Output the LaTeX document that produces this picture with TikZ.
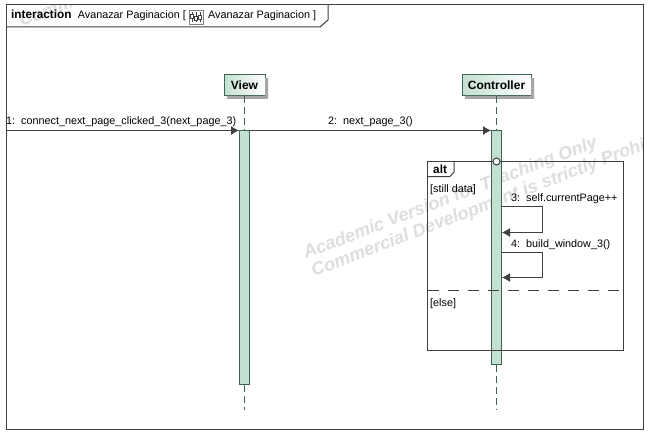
\documentclass[tikz,border=0pt]{standalone}
\usepackage{fontspec}
\setmainfont{Liberation Sans}
\usetikzlibrary{positioning}
\usetikzlibrary{arrows.meta}
\definecolor{umlgreen}{RGB}{195,224,208}
\definecolor{umlline}{RGB}{62,100,86}
\definecolor{umldark}{RGB}{64,64,64}
\definecolor{umlmark}{RGB}{222,222,222}
\tikzset{
  lifebox/.style={draw=umlline, line width=1pt, left color=umlgreen, right color=white, font=\fontsize{12}{14}\selectfont\bfseries, minimum height=21pt, inner sep=0pt},
  lifeline/.style={draw=umlline, line width=1pt, dash pattern=on 7pt off 4pt},
  actbar/.style={draw=umlline, fill=umlgreen, line width=1pt, minimum width=10pt, inner sep=0pt, anchor=north},
  msg/.style={draw=umldark, line width=1pt, -{Latex[length=8pt,width=9pt]}},
  msgtext/.style={font=\fontsize{10.8}{13}\selectfont, inner sep=0pt, anchor=base west},
  boldtext/.style={font=\fontsize{11.8}{13}\selectfont\bfseries, inner sep=0pt, anchor=base west},
  markline/.style={font=\fontsize{18}{20}\selectfont\bfseries\itshape, text=umlmark, rotate=21, inner sep=0pt, anchor=base west},
}

\begin{document}
\begin{tikzpicture}[x=1pt, y=-1pt]
  \useasboundingbox (0,0) rectangle (648,433);
  \fill [white] (0,0) rectangle (648,433);

  % watermark:
  \begin{scope}
    \clip (6,5) rectangle (643,429);
    \node [markline] (markone) at (306,259) {Academic Version for Teaching Only};
    \node [markline] (marktwo) at (314,277) {Commercial Development is strictly Prohi};
  \end{scope}
  \begin{scope}
    \clip (6,5) rectangle (75,27);
    \node [markline] (markthree) at (22,27) {Comm};
  \end{scope}

  % frame:
  \draw [umldark, line width=1pt] (6,5) rectangle (643,429);
  \draw [umldark, line width=1pt] (6,27) -- (320,27) -- (328,20) -- (328,5);
  \node [boldtext] (kind) at (11,19) {interaction};
  \node [msgtext, right=6pt of kind.base east, anchor=base west] (title) {Avanazar Paginacion [};
  \node [msgtext] (subtitle) at (208,19) {Avanazar Paginacion ]};

  % icon:
  \draw [gray, line width=.7pt] (189,10) rectangle (203,24);
  \foreach \x/\y in {192/16,196/18,200/17} {
    \draw [umldark, line width=.7pt] (\x,12) -- (\x,22);
    \draw [umldark, fill=white, line width=.7pt] (\x-1.5,\y-2) rectangle (\x+1.5,\y+2);
  }

  % lifelines:
  \node [lifebox, minimum width=41pt] (view) at (244.5,85.5) {View};
  \node [lifebox, minimum width=69pt] (controller) at (496.5,85.5) {Controller};
  \fill [gray!70] (227,96) rectangle (268,99) (265,78) rectangle (268,99);
  \fill [gray!70] (465,96) rectangle (534,99) (531,78) rectangle (534,99);
  \node [actbar, minimum height=253pt, below=34pt of view] (viewbar) {};
  \node [actbar, minimum height=233pt, below=34pt of controller] (controllerbar) {};
  \coordinate [below=25pt of viewbar.south] (viewend);
  \coordinate [below=45pt of controllerbar.south] (controllerend);
  \draw [lifeline] (view) -- (viewbar);
  \draw [lifeline] (controller) -- (controllerbar);
  \draw [lifeline] (viewbar) -- (viewend);
  \draw [lifeline] (controllerbar) -- (controllerend);

  % alt fragment:
  \draw [umldark, line width=1pt] (427.5,161.5) rectangle (623.5,350.5);
  \draw [umldark, line width=1pt] (427.5,176.5) -- (450,176.5) -- (454,172) -- (454,161.5);
  \draw [umldark, line width=1pt, dash pattern=on 11pt off 9pt] (427.5,290.5) -- (623.5,290.5);
  \node [boldtext] (alt) at (433,173) {alt};
  \node [msgtext] (stilldata) at (430,193) {[still data]};
  \node [msgtext] (else) at (430,306) {[else]};
  \draw [umldark, fill=white, line width=1pt] (496.5,161.5) circle (3.5pt);

  % messages:
  \coordinate (start) at (6,130.5);
  \draw [msg] (start) -- (viewbar.north west);
  \node [msgtext] (msgone) at (6,125) {1:\ \ connect\_next\_page\_clicked\_3(next\_page\_3)};
  \draw [msg] (viewbar.north east) -- (controllerbar.north west);
  \node [msgtext] (msgtwo) at (328,125) {2:\ \ next\_page\_3()};

  % self calls:
  \coordinate (callthree) at (controllerbar.north east |- 0,206.5);
  \coordinate (backthree) at (controllerbar.north east |- 0,232.5);
  \coordinate (callfour) at (controllerbar.north east |- 0,252.5);
  \coordinate (backfour) at (controllerbar.north east |- 0,277.5);
  \draw [msg] (callthree) -- ++(40,0) |- (backthree);
  \draw [msg] (callfour) -- ++(40,0) |- (backfour);
  \node [msgtext] (msgthree) at (511,201) {3:\ \ self.currentPage++};
  \node [msgtext] (msgfour) at (511,247) {4:\ \ build\_window\_3()};
\end{tikzpicture}
\end{document}
